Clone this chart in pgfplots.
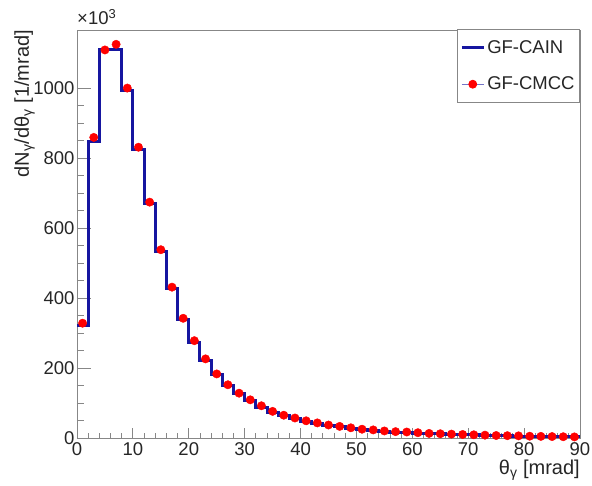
\documentclass[border=0pt]{standalone}
\usepackage{pgfplots}
\pgfplotsset{compat=1.18}
\usepackage{fontspec}
\setmainfont{Liberation Sans}

\definecolor{cainblue}{RGB}{22,22,160}
\definecolor{framegray}{RGB}{135,135,135}

% photon angular spectrum, GF-CAIN histogram (left bin edges, 2 mrad bins)
\pgfplotstableread{
x    y
0    321
2    848
4    1111
6    1112
8    994
10   826
12   670
14   534
16   429
18   339
20   274
22   221
24   181
26   150
28   127
30   107
32   89
34   75
36   64
38   56
40   48
42   42
44   37
46   33
48   29
50   25
52   23
54   20
56   18
58   17
60   15
62   13.5
64   12.5
66   11.5
68   10.5
70   9.5
72   8.5
74   7.5
76   7
78   6.5
80   5.8
82   5.2
84   4.8
86   4.3
88   3.8
90   3.8
}\cain

% GF-CMCC, bin centres
\pgfplotstableread{
x    y
1    329
3    860
5    1110
7    1126
9    1001
11   832
13   675
15   539
17   432
19   343
21   279
23   227
25   184
27   153
29   129
31   110
33   93
35   77
37   66
39   58
41   50
43   44
45   38
47   34
49   30
51   26
53   24
55   21
57   19
59   18
61   16
63   14
65   13
67   12
69   11
71   10
73   9
75   8
77   7.5
79   7
81   6
83   5.5
85   5
87   4.5
89   4
}\cmcc

\begin{document}
\begin{tikzpicture}
\useasboundingbox (0,0) rectangle (592pt,485pt);
\begin{axis}[
  name=ax,
  at={(77pt,46.7pt)}, anchor=south west,
  scale only axis, width=503pt, height=408.3pt,
  xmin=0, xmax=90, ymin=0, ymax=1167,
  xtick={0,10,...,90}, minor x tick num=4,
  ytick={0,200,...,1000}, minor y tick num=3,
  tick pos=left, tick align=inside,
  major tick length=14pt, minor tick length=7pt,
  xtick style={/pgfplots/major tick length=10pt,/pgfplots/minor tick length=5pt},
  axis line style={framegray, line width=0.9pt},
  every tick/.style={framegray, line width=0.9pt},
  ticklabel style={font=\fontsize{18.5}{21}\selectfont, text=black!85},
  /pgf/number format/assume math mode=true,
  /pgf/number format/1000 sep={},
  scaled y ticks=false,
  xticklabel style={yshift=-1pt},
  yticklabel style={xshift=1pt},
  xlabel={θ\textsubscript{γ} [mrad]},
  xlabel style={at={(axis description cs:1.0,-0.103)}, anchor=south east, inner sep=0pt,
                font=\fontsize{20}{23}\selectfont, text=black!85},
  ylabel={dN\textsubscript{γ}/dθ\textsubscript{γ} [1/mrad]},
  ylabel style={at={(axis description cs:-0.0835,1.0)}, anchor=south east, inner sep=0pt,
                font=\fontsize{20}{23}\selectfont, text=black!85},
  clip=false,
  legend style={at={(1,1.002)}, anchor=north east, draw=framegray, line width=0.8pt,
                fill=white, font=\fontsize{18.5}{21}\selectfont, text=black!85,
                inner xsep=3pt, inner ysep=9pt, row sep=18pt,
                cells={anchor=west}},
  legend cell align=left,
]
\addplot[const plot, cainblue, line width=3pt,
  legend image code/.code={\draw[cainblue, line width=3pt] (0pt,0pt) -- (22pt,0pt);}]
  table[x=x, y=y] {\cain};
\addlegendentry{GF-CAIN}

\addplot[only marks, mark=*, mark size=4.2pt, mark options={draw=red, fill=red},
  legend image code/.code={\draw[cainblue!60, line width=0.6pt] (0pt,0pt) -- (22pt,0pt);
                           \fill[red] (11pt,0pt) circle (4pt);}]
  table[x=x, y=y] {\cmcc};
\addlegendentry{GF-CMCC}
\end{axis}
\node[anchor=base west, inner sep=0pt, font=\fontsize{18.5}{21}\selectfont, text=black!85]
  at ([yshift=5pt]ax.north west) {×10\textsuperscript{3}};
\end{tikzpicture}
\end{document}
